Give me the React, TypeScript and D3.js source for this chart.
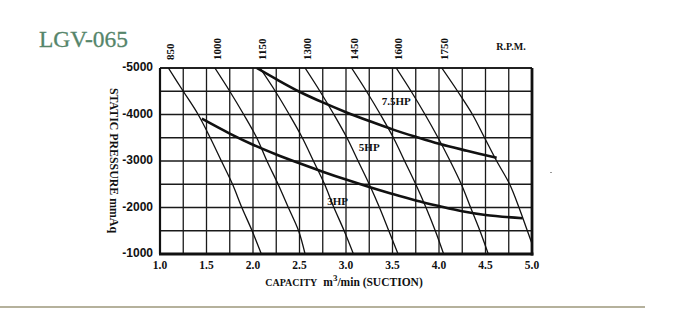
import React from "react";
import * as d3 from "d3";

const TITLE = "LGV-065";
const X_TICKS = [1.0, 1.5, 2.0, 2.5, 3.0, 3.5, 4.0, 4.5, 5.0];
const Y_TICKS = [-5000, -4000, -3000, -2000, -1000];
const RPM_LABELS = ["850", "1000", "1150", "1300", "1450", "1600", "1750"];
const PRESSURES = [-5000, -4500, -4000, -3500, -3000, -2500, -2000, -1500, -1000];
const CAP_850 = [1.09, 1.25, 1.41, 1.54, 1.66, 1.78, 1.88, 1.99, 2.09];
const CAP_1000 = [1.59, 1.75, 1.9, 2.04, 2.15, 2.27, 2.38, 2.49, 2.56];
const CAP_1150 = [2.075, 2.24, 2.39, 2.53, 2.65, 2.77, 2.87, 2.98, 3.08];
const CAP_1300 = [2.56, 2.72, 2.87, 3.01, 3.13, 3.25, 3.36, 3.46, 3.56];
const CAP_1450 = [3.06, 3.22, 3.37, 3.51, 3.63, 3.75, 3.86, 3.96, 4.05];
const CAP_1600 = [3.54, 3.7, 3.85, 3.99, 4.12, 4.24, 4.34, 4.44, 4.53];
const CAP_1750 = [4.03, 4.2, 4.36, 4.49, 4.62, 4.76, 4.86, 4.95, 5.04];
const RPM_CAPS = [CAP_850, CAP_1000, CAP_1150, CAP_1300, CAP_1450, CAP_1600, CAP_1750];

const HP_HIGH_CAP = [2.04, 2.25, 2.5, 2.75, 3.0, 3.25, 3.5, 3.75, 4.0, 4.3, 4.62];
const HP_HIGH_P = [-5000, -4760, -4490, -4260, -4050, -3860, -3680, -3520, -3370, -3220, -3070];
const HP_LOW_CAP = [1.45, 1.75, 2.0, 2.25, 2.5, 2.75, 3.0, 3.25, 3.5, 3.75, 4.0, 4.25, 4.5, 4.9];
const HP_LOW_P = [-3910, -3590, -3350, -3140, -2950, -2770, -2600, -2440, -2290, -2150, -2030, -1920, -1840, -1770];

const HP_LABELS = ["7.5HP", "5HP", "3HP"];
const HP_LABEL_CAP = [3.54, 3.25, 2.91];
const HP_LABEL_P = [-4300, -3300, -2140];

const SERIF = "'Liberation Serif', 'Times New Roman', serif";
const SANS = "'Liberation Sans', Arial, sans-serif";

export default function App() {
  const x = d3.scaleLinear().domain([1, 5]).range([160, 532]);
  const y = d3.scaleLinear().domain([-5000, -1000]).range([68, 254]);
  const gridX = d3.range(1, 5.0001, 0.25);
  const gridY = d3.range(-5000, -999, 500);

  const curveLine = d3
    .line<[number, number]>()
    .x((d) => x(d[0]))
    .y((d) => y(d[1]))
    .curve(d3.curveCatmullRom);

  const rpmData = RPM_CAPS.map((caps) => caps.map((c, i) => [c, PRESSURES[i]] as [number, number]));
  const hpHigh = HP_HIGH_CAP.map((c, i) => [c, HP_HIGH_P[i]] as [number, number]);
  const hpLow = HP_LOW_CAP.map((c, i) => [c, HP_LOW_P[i]] as [number, number]);

  const [x0, x1] = x.range();
  const [y0, y1] = y.range();

  return (
    <svg
      width={700}
      height={324}
      style={{ position: "absolute", left: 0, top: 0, background: "#fff" }}
    >
      <defs>
        <clipPath id="plot">
          <rect x={x0} y={y0} width={x1 - x0} height={y1 - y0} />
        </clipPath>
      </defs>
      <rect x={0} y={0} width={700} height={324} fill="#fff" />
      <text
        x={39}
        y={47}
        fontFamily={SERIF}
        fontSize={24}
        fill="#55856a"
        stroke="#55856a"
        strokeWidth={0.3}
        textLength={89}
        lengthAdjust="spacingAndGlyphs"
      >
        {TITLE}
      </text>

      {/* grid */}
      {gridX.map((v) => (
        <line key={"gx" + v} x1={x(v)} x2={x(v)} y1={y0} y2={y1} stroke="#1a1a1a" strokeWidth={1.3} />
      ))}
      {gridY.map((v) => (
        <line key={"gy" + v} x1={x0} x2={x1} y1={y(v)} y2={y(v)} stroke="#1a1a1a" strokeWidth={1.3} />
      ))}

      {/* curves */}
      <g clipPath="url(#plot)">
        {rpmData.map((d, i) => (
          <path key={"rpm" + i} d={curveLine(d) || ""} fill="none" stroke="#111" strokeWidth={1.3} />
        ))}
        <path d={curveLine(hpHigh) || ""} fill="none" stroke="#111" strokeWidth={2.6} />
        <path d={curveLine(hpLow) || ""} fill="none" stroke="#111" strokeWidth={2.6} />
      </g>

      {/* frame */}
      <line x1={x0} x2={x1} y1={y0} y2={y0} stroke="#111" strokeWidth={1.6} />
      <line x1={x0} x2={x0} y1={y0} y2={y1} stroke="#111" strokeWidth={2.2} />
      <line x1={x1} x2={x1} y1={y0} y2={y1 + 1.5} stroke="#111" strokeWidth={2.8} />
      <line x1={x0 - 1} x2={x1 + 1.4} y1={y1} y2={y1} stroke="#111" strokeWidth={3} />

      {/* HP labels */}
      {HP_LABELS.map((t, i) => (
        <text
          key={t}
          x={x(HP_LABEL_CAP[i])}
          y={y(HP_LABEL_P[i])}
          fontFamily={SERIF}
          fontWeight="bold"
          fontSize={11}
          textAnchor="middle"
          dominantBaseline="central"
          fill="#111"
        >
          {t}
        </text>
      ))}

      {/* y ticks */}
      {Y_TICKS.map((v) => (
        <text
          key={"yt" + v}
          x={x0 - 7}
          y={y(v) - 1}
          fontFamily={SANS}
          fontWeight="bold"
          fontSize={12}
          textAnchor="end"
          dominantBaseline="central"
          fill="#111"
        >
          {v}
        </text>
      ))}

      {/* x ticks */}
      {X_TICKS.map((v) => (
        <text
          key={"xt" + v}
          x={x(v)}
          y={269}
          fontFamily={SERIF}
          fontWeight="bold"
          fontSize={11.5}
          textAnchor="middle"
          fill="#111"
        >
          {v.toFixed(1)}
        </text>
      ))}

      {/* rpm labels */}
      {RPM_LABELS.map((t, i) => {
        const px = x(RPM_CAPS[i][0]) + 2;
        return (
          <text
            key={"rl" + t}
            transform={`translate(${px},60) rotate(-90)`}
            fontFamily={SERIF}
            fontWeight="bold"
            fontSize={11}
            textAnchor="start"
            dominantBaseline="central"
            fill="#111"
          >
            {t}
          </text>
        );
      })}
      <text x={511} y={50} fontFamily={SERIF} fontWeight="bold" fontSize={10} textAnchor="middle" fill="#111">
        R.P.M.
      </text>

      {/* axis titles */}
      <text
        transform={`translate(110,160.5) rotate(90)`}
        fontFamily={SERIF}
        fontWeight="bold"
        fontSize={12}
        textAnchor="middle"
        fill="#111"
        textLength={145}
        lengthAdjust="spacingAndGlyphs"
      >
        STATIC PRESSURE mmAq
      </text>
      <text x={344} y={286} fontFamily={SERIF} fontWeight="bold" fontSize={11.5} textAnchor="middle" fill="#111">
        <tspan fontSize={10}>CAPACITY</tspan>
        <tspan dx={6}>m</tspan>
        <tspan dy={-5} fontSize={9}>3</tspan>
        <tspan dy={5}>/min (SUCTION)</tspan>
      </text>

      <rect x={550} y={172} width={2} height={1} fill="#999" />
      <line x1={0} x2={645} y1={307} y2={307} stroke="#b5b19c" strokeWidth={2} />
    </svg>
  );
}
